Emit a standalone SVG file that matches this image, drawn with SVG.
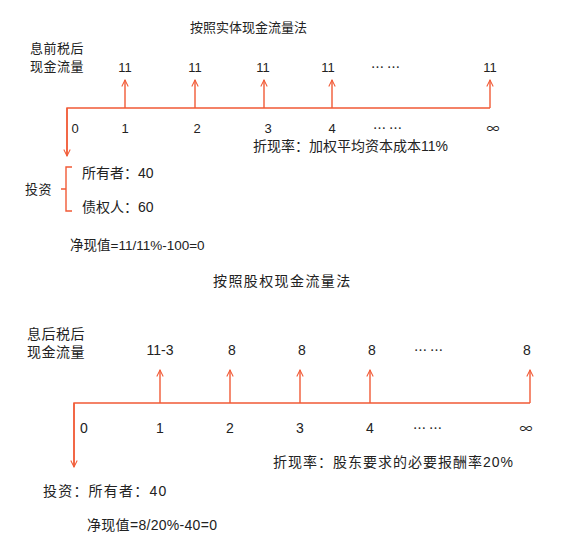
<svg xmlns="http://www.w3.org/2000/svg" width="581" height="541" viewBox="0 0 581 541">
<defs>
<marker id="ah" viewBox="0 0 10 10" refX="9" refY="5" markerWidth="8" markerHeight="8" markerUnits="userSpaceOnUse" orient="auto">
<polyline points="1,1 9,5 1,9" fill="none" stroke="#f15a36" stroke-width="1.3"/>
</marker>
<style>
.ln{stroke:#f15a36;stroke-width:1.4;fill:none}
.ar{stroke:#f15a36;stroke-width:1.4;fill:none;marker-end:url(#ah)}
.zh{font-family:"Liberation Sans","Noto Sans CJK SC","Noto Sans CJK JP",sans-serif;font-size:13px;fill:#222}
.cj{font-family:"Noto Sans CJK SC","Noto Sans CJK JP",sans-serif;font-size:13px;fill:#222}
.nm{font-family:"Liberation Sans",Arial,sans-serif;font-size:13px;fill:#222}
.b{font-size:14px}
.mid{text-anchor:middle}
</style>
</defs>
<rect width="581" height="541" fill="#fff"/>

<g id="top-diagram">
<g id="top-title"><text class="zh" x="190" y="32" letter-spacing="0">按照实体现金流量法</text></g>
<g id="top-label"><text class="zh" x="30" y="53" letter-spacing="0.5">息前税后</text><text class="zh" x="30" y="71" letter-spacing="0.5">现金流量</text></g>
<g id="top-values">
<text class="nm mid" x="125" y="72">11</text>
<text class="nm mid" x="195" y="72">11</text>
<text class="nm mid" x="263" y="72">11</text>
<text class="nm mid" x="328" y="72">11</text>
<text class="cj" x="371" y="72">… …</text>
<text class="nm mid" x="490" y="72">11</text>
</g>
<g id="top-axis-labels">
<text class="nm mid" x="75" y="133">0</text>
<text class="nm mid" x="125" y="133">1</text>
<text class="nm mid" x="197" y="133">2</text>
<text class="nm mid" x="268" y="133">3</text>
<text class="nm mid" x="332" y="133">4</text>
<text class="cj" x="373" y="133">… …</text>
<text class="cj mid" x="493" y="133">∞</text>
</g>
<g id="top-rate"><text class="zh b" x="253" y="151">折现率：加权平均资本成本11%</text></g>
<g id="top-invest">
<text class="zh" x="25" y="194" letter-spacing="0.5">投资</text>
<text class="zh b" x="82" y="178">所有者：40</text>
<text class="zh b" x="82" y="212">债权人：60</text>
</g>
<g id="top-npv"><text class="zh" x="70" y="250" style="font-size:13.5px">净现值=11/11%-100=0</text></g>
</g>

<g id="bottom-diagram">
<g id="bot-title"><text class="zh b" x="213" y="286" letter-spacing="1.4">按照股权现金流量法</text></g>
<g id="bot-label"><text class="zh b" x="27" y="339" letter-spacing="0.5">息后税后</text><text class="zh b" x="27" y="357" letter-spacing="0.5">现金流量</text></g>
<g id="bot-values">
<text class="nm b mid" x="160" y="355">11-3</text>
<text class="nm b mid" x="232" y="355">8</text>
<text class="nm b mid" x="302" y="355">8</text>
<text class="nm b mid" x="372" y="355">8</text>
<text class="cj" x="414" y="355">… …</text>
<text class="nm b mid" x="527" y="355">8</text>
</g>
<g id="bot-axis-labels">
<text class="nm b mid" x="84" y="433">0</text>
<text class="nm b mid" x="160" y="433">1</text>
<text class="nm b mid" x="230" y="433">2</text>
<text class="nm b mid" x="300" y="433">3</text>
<text class="nm b mid" x="370" y="433">4</text>
<text class="cj" x="413" y="433">… …</text>
<text class="cj mid" x="526" y="433">∞</text>
</g>
<g id="bot-rate"><text class="zh b" x="273" y="467" letter-spacing="1">折现率：股东要求的必要报酬率20%</text></g>
<g id="bot-invest"><text class="zh b" x="43" y="496" letter-spacing="1.2">投资：所有者：40</text></g>
<g id="bot-npv"><text class="zh b" x="87" y="530" letter-spacing="0.3">净现值=8/20%-40=0</text></g>
</g>

<g id="connectors">
<polyline class="ln" points="67,155 67,108 490,108"/>
<line class="ar" x1="67" y1="108" x2="67" y2="156"/>
<line class="ar" x1="125" y1="108" x2="125" y2="80"/>
<line class="ar" x1="195" y1="108" x2="195" y2="80"/>
<line class="ar" x1="264" y1="108" x2="264" y2="80"/>
<line class="ar" x1="332" y1="108" x2="332" y2="80"/>
<line class="ar" x1="490" y1="108" x2="490" y2="80"/>
<path class="ln" d="M72,167 H66 V189 H61 M66,189 V211 H72"/>
<polyline class="ln" points="74,466 74,403 530,403"/>
<line class="ar" x1="74" y1="403" x2="74" y2="467"/>
<line class="ar" x1="160" y1="403" x2="160" y2="370"/>
<line class="ar" x1="230" y1="403" x2="230" y2="370"/>
<line class="ar" x1="300" y1="403" x2="300" y2="370"/>
<line class="ar" x1="370" y1="403" x2="370" y2="370"/>
<line class="ar" x1="530" y1="403" x2="530" y2="370"/>
</g>
</svg>
